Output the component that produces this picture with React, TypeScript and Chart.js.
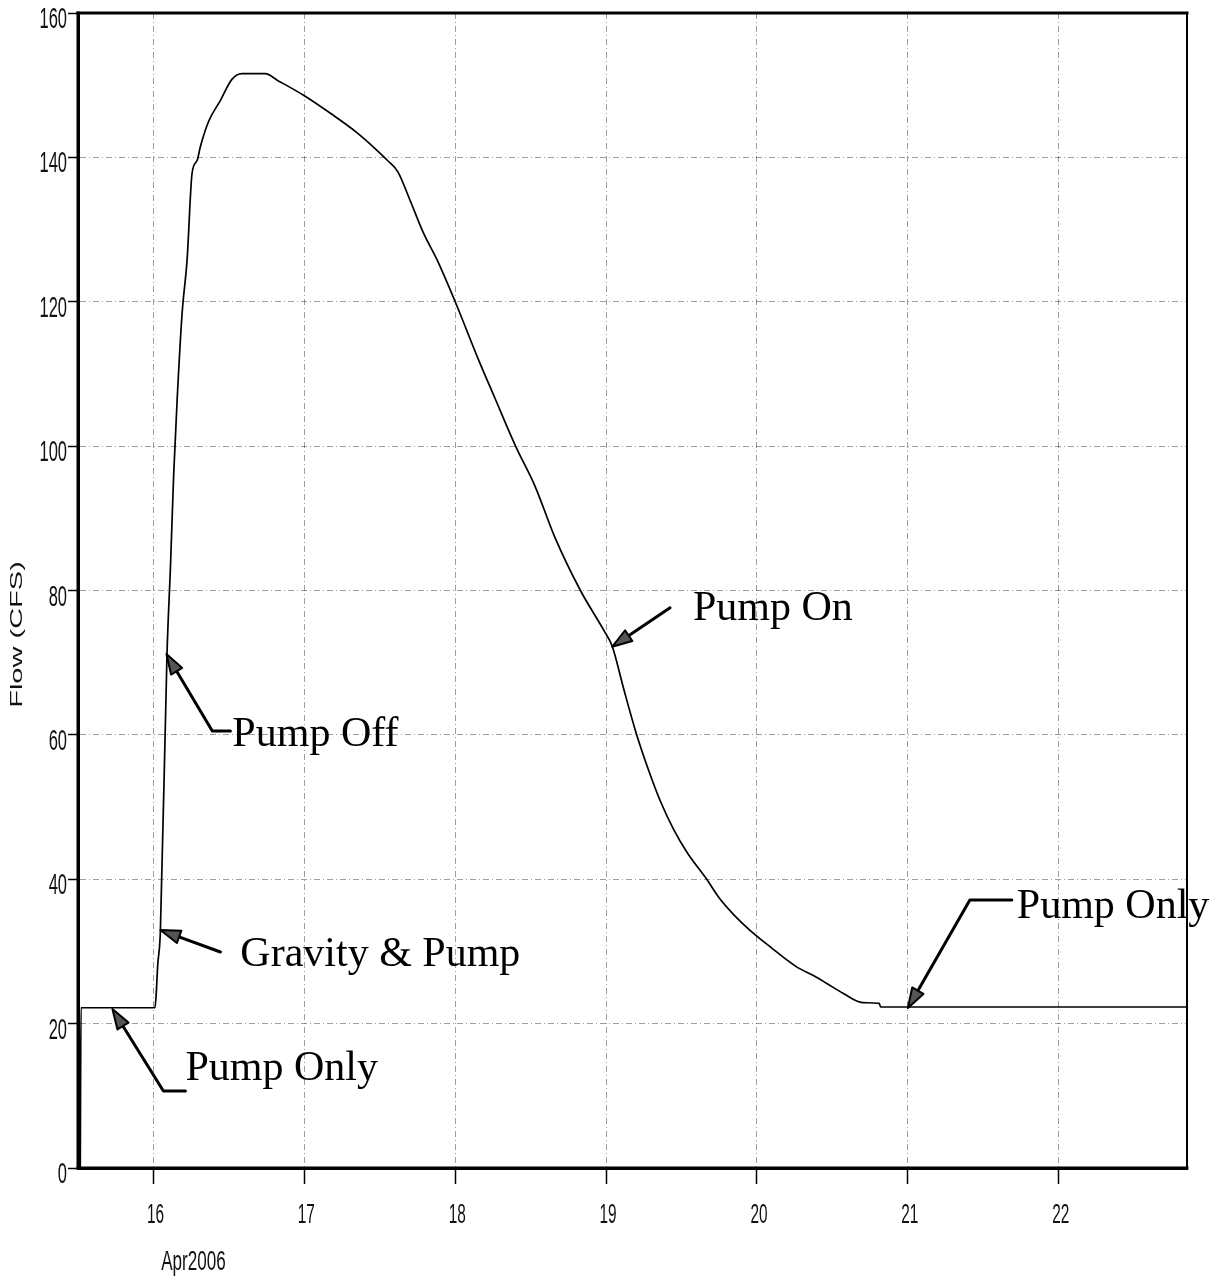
import React, { useEffect, useRef } from "react";
import { Chart, registerables } from "chart.js";

Chart.register(...registerables);

// ---- data (days of April 2006, flow in CFS) ----
const TIMES = [
  15.515, 15.52, 16.01, 16.018, 16.028, 16.046, 16.09, 16.113, 16.134, 16.157,
  16.19, 16.223, 16.256, 16.29, 16.31, 16.364, 16.444, 16.52, 16.587, 16.742,
  16.82, 16.995, 17.18, 17.35, 17.46, 17.55, 17.62, 17.7, 17.79, 17.88,
  18.0, 18.15, 18.26, 18.4, 18.53, 18.66, 18.83, 18.99, 19.04, 19.12,
  19.2, 19.28, 19.36, 19.45, 19.54, 19.66, 19.75, 19.85, 19.95, 20.09,
  20.26, 20.38, 20.46, 20.57, 20.7, 20.81, 20.82, 22.85,
];
const FLOWS = [
  0, 22.2, 22.2, 24, 28, 32.8, 71.3, 83.4, 96, 106.4,
  118.4, 125.8, 137.8, 139.6, 141.4, 144.9, 147.9, 150.8, 151.6, 151.6,
  150.7, 148.6, 146, 143.4, 141.4, 139.6, 138, 134.1, 129.5, 125.8,
  120, 112.2, 106.8, 100, 94.4, 87.4, 80, 74.3, 72.3, 66.1,
  60.2, 55.2, 50.8, 46.8, 43.6, 40.2, 37.4, 35, 33, 30.6,
  27.9, 26.6, 25.6, 24.2, 22.9, 22.8, 22.3, 22.3,
];

const X_TICKS = [16, 17, 18, 19, 20, 21, 22];
const Y_TICKS = [0, 20, 40, 60, 80, 100, 120, 140, 160];
const X_MIN = 15.5;
const X_MAX = 22.85;
const Y_MIN = 0;
const Y_MAX = 160;
const Y_TITLE = "Flow (CFS)";
const X_SUBLABEL = "Apr2006";

// ---- annotations (in data units) ----
const NOTE_TEXTS = ["Pump Off", "Gravity & Pump", "Pump Only", "Pump On", "Pump Only"];
const NOTE_X = [16.523, 16.576, 16.212, 19.576, 21.722];
const NOTE_Y = [58.46, 27.98, 12.19, 75.9, 34.63];
const ARROW_PATHS: number[][][] = [
  [[16.51, 60.53], [16.39, 60.53], [16.086, 71.2]],
  [[16.444, 29.92], [16.046, 32.97]],
  [[16.212, 10.67], [16.066, 10.67], [15.728, 22.02]],
  [[19.424, 77.6], [19.04, 72.2]],
  [[21.689, 37.12], [21.411, 37.12], [21.0, 22.16]],
];

const decorPlugin = {
  id: "decor",
  afterDraw(chart: any) {
    const { ctx, chartArea: a, scales } = chart;
    const xs = scales.x;
    const ys = scales.y;
    ctx.save();

    // frame
    ctx.strokeStyle = "#000";
    ctx.lineCap = "square";
    const seg = (x1: number, y1: number, x2: number, y2: number, w: number) => {
      ctx.lineWidth = w;
      ctx.beginPath();
      ctx.moveTo(x1, y1);
      ctx.lineTo(x2, y2);
      ctx.stroke();
    };
    seg(a.left, a.top, a.right, a.top, 3);
    seg(a.right, a.top, a.right, a.bottom, 2);
    seg(a.left, a.bottom, a.right, a.bottom, 3);
    seg(a.left, a.top, a.left, a.bottom, 3);

    // tick labels (condensed sans)
    ctx.fillStyle = "#111";
    ctx.font = '30px "Liberation Sans", Arial, sans-serif';
    ctx.textBaseline = "alphabetic";
    ctx.textAlign = "right";
    for (const v of Y_TICKS) {
      const py = ys.getPixelForValue(v);
      ctx.save();
      ctx.translate(a.left - 11, py + 15);
      ctx.scale(0.55, 1);
      ctx.fillText(String(v), 0, 0);
      ctx.restore();
    }
    ctx.font = '28px "Liberation Sans", Arial, sans-serif';
    ctx.textAlign = "center";
    for (const v of X_TICKS) {
      const px = xs.getPixelForValue(v);
      ctx.save();
      ctx.translate(px + 2, a.bottom + 55);
      ctx.scale(0.55, 1);
      ctx.fillText(String(v), 0, 0);
      ctx.restore();
    }
    // month label
    {
      const px = xs.getPixelForValue(X_TICKS[0]);
      ctx.save();
      ctx.translate(px + 40, a.bottom + 102);
      ctx.scale(0.61, 1);
      ctx.fillText(X_SUBLABEL, 0, 0);
      ctx.restore();
    }
    // y title
    {
      ctx.save();
      ctx.translate(18, (a.top + a.bottom) / 2 + 44);
      ctx.scale(0.55, 1);
      ctx.rotate(-Math.PI / 2);
      ctx.font = '29px "Liberation Sans", Arial, sans-serif';
      ctx.textAlign = "center";
      ctx.textBaseline = "middle";
      ctx.fillText(Y_TITLE, 0, 0);
      ctx.restore();
    }

    // annotation texts
    ctx.font = '42px "Liberation Serif", "Times New Roman", serif';
    ctx.textAlign = "left";
    ctx.textBaseline = "alphabetic";
    ctx.fillStyle = "#000";
    NOTE_TEXTS.forEach((t, i) => {
      ctx.fillText(t, xs.getPixelForValue(NOTE_X[i]), ys.getPixelForValue(NOTE_Y[i]));
    });

    // arrows
    for (const path of ARROW_PATHS) {
      const pts = path.map(([vx, vy]) => [xs.getPixelForValue(vx), ys.getPixelForValue(vy)]);
      ctx.strokeStyle = "#000";
      ctx.lineWidth = 3;
      ctx.lineCap = "round";
      ctx.lineJoin = "round";
      const [tx, ty] = pts[pts.length - 1];
      const [px, py] = pts[pts.length - 2];
      const ang = Math.atan2(ty - py, tx - px);
      const L = 20;
      const W = 6.5;
      const bx = tx - L * Math.cos(ang);
      const by = ty - L * Math.sin(ang);
      ctx.beginPath();
      ctx.moveTo(pts[0][0], pts[0][1]);
      for (let k = 1; k < pts.length - 1; k++) ctx.lineTo(pts[k][0], pts[k][1]);
      ctx.lineTo(bx + 6 * Math.cos(ang), by + 6 * Math.sin(ang));
      ctx.stroke();
      ctx.beginPath();
      ctx.moveTo(tx, ty);
      ctx.lineTo(bx - W * Math.sin(ang), by + W * Math.cos(ang));
      ctx.lineTo(bx + W * Math.sin(ang), by - W * Math.cos(ang));
      ctx.closePath();
      ctx.fillStyle = "#555";
      ctx.fill();
      ctx.lineWidth = 2;
      ctx.stroke();
    }

    ctx.restore();
  },
};

export default function App() {
  const canvasRef = useRef<HTMLCanvasElement | null>(null);

  useEffect(() => {
    if (!canvasRef.current) return;
    const data = TIMES.map((t, i) => ({ x: t, y: FLOWS[i] }));
    const gridCommon = {
      color: "rgba(0,0,0,0.38)",
      lineWidth: 1,
      drawTicks: true,
      tickColor: "#000",
      tickWidth: 1.5,
      tickBorderDash: [],
    };
    const chart = new Chart(canvasRef.current, {
      type: "line",
      data: {
        datasets: [
          {
            data,
            borderColor: "#000",
            borderWidth: 1.7,
            pointRadius: 0,
            cubicInterpolationMode: "monotone",
            fill: false,
          },
        ],
      },
      options: {
        animation: false,
        responsive: true,
        maintainAspectRatio: false,
        layout: { padding: { top: 13, right: 34, left: 0, bottom: 0 } },
        plugins: {
          legend: { display: false },
          tooltip: { enabled: false },
          title: { display: false },
        },
        scales: {
          x: {
            type: "linear",
            min: X_MIN,
            max: X_MAX,
            afterBuildTicks: (s: any) => {
              s.ticks = X_TICKS.map((v) => ({ value: v }));
            },
            afterFit: (s: any) => {
              s.height = 113;
            },
            ticks: { display: false },
            grid: { ...gridCommon, tickLength: 16 },
            border: { display: true, color: "#000", width: 3, dash: [6, 3, 1, 3] },
          },
          y: {
            type: "linear",
            min: Y_MIN,
            max: Y_MAX,
            afterBuildTicks: (s: any) => {
              s.ticks = Y_TICKS.map((v) => ({ value: v }));
            },
            afterFit: (s: any) => {
              s.width = 78;
            },
            ticks: { display: false },
            grid: { ...gridCommon, tickLength: 10 },
            border: { display: true, color: "#000", width: 3, dash: [6, 3, 1, 3] },
          },
        },
      },
      plugins: [decorPlugin],
    } as any);
    return () => chart.destroy();
  }, []);

  return (
    <div
      style={{
        position: "absolute",
        left: 0,
        top: 0,
        width: 1221,
        height: 1281,
        background: "#fff",
      }}
    >
      <canvas ref={canvasRef} />
    </div>
  );
}
